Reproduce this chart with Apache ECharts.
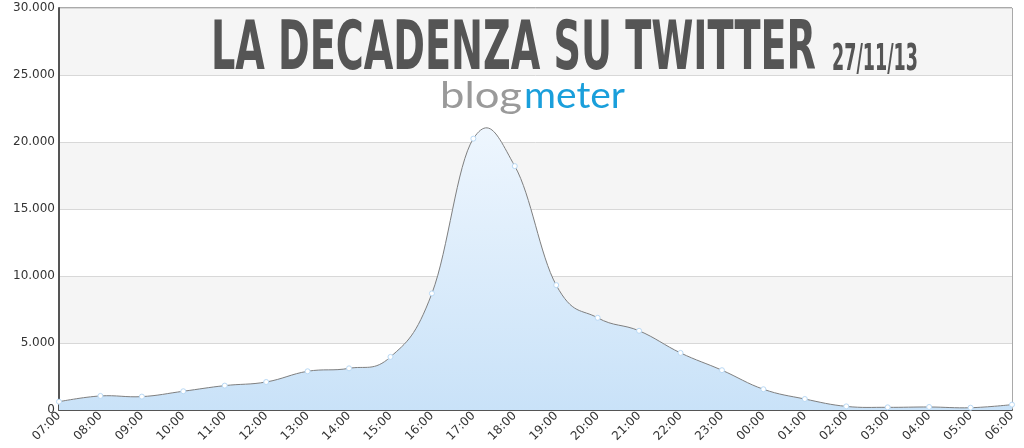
<!DOCTYPE html>
<html>
<head>
<meta charset="utf-8">
<script src="https://cdn.jsdelivr.net/npm/echarts@6/dist/echarts.min.js"></script>
<style>
html,body{margin:0;padding:0;background:#fff;}
#chart{width:1024px;height:448px;}
</style>
</head>
<body>
<div id="chart"></div>
<script>
const categories = ['07:00','08:00','09:00','10:00','11:00','12:00','13:00','14:00','15:00','16:00','17:00','18:00','19:00','20:00','21:00','22:00','23:00','00:00','01:00','02:00','03:00','04:00','05:00','06:00'];
const tweets = [620,1050,1000,1400,1820,2090,2890,3110,3960,8700,20250,18200,9320,6880,5910,4260,2970,1550,820,270,200,225,170,400];
const yTicks = {min:0, max:30000, interval:5000};
const titleText = 'LA DECADENZA SU TWITTER';
const dateText = '27/11/13';

const ctx = document.createElement('canvas').getContext('2d');
function measure(text, font){ ctx.font = font; return ctx.measureText(text).width; }

const titleFontFamily = '"Liberation Sans Narrow", "DejaVu Sans Condensed", "Liberation Sans", sans-serif';
const titleSize = 68, dateSize = 38;
const titleW = measure(titleText, 'bold ' + titleSize + 'px ' + titleFontFamily);
const dateW = measure(dateText, 'bold ' + dateSize + 'px ' + titleFontFamily);
const logoFamily = '"Lato", "Noto Sans", "DejaVu Sans", sans-serif';
const logoSize = 36;
const blogW = measure('blog', 'normal ' + logoSize + 'px ' + logoFamily);
const meterW = measure('meter', 'normal ' + logoSize + 'px ' + logoFamily);

// Highcharts-style spline (smoothing 1.5) built from axis-mapped pixel points
function splinePath(pts){
  const sm = 1.5, den = sm + 1;
  const ctl = pts.map((p,i)=>{
    if(i===0 || i===pts.length-1) return {lx:p[0],ly:p[1],rx:p[0],ry:p[1]};
    const a = pts[i-1], b = pts[i+1];
    let lx=(sm*p[0]+a[0])/den, ly=(sm*p[1]+a[1])/den;
    let rx=(sm*p[0]+b[0])/den, ry=(sm*p[1]+b[1])/den;
    if(rx!==lx){
      const c=((ry-ly)*(rx-p[0]))/(rx-lx)+p[1]-ry;
      ly+=c; ry+=c;
    }
    return {lx,ly,rx,ry};
  });
  let d='M'+pts[0][0]+' '+pts[0][1];
  for(let i=1;i<pts.length;i++){
    d+=' C'+ctl[i-1].rx+' '+ctl[i-1].ry+' '+ctl[i].lx+' '+ctl[i].ly+' '+pts[i][0]+' '+pts[i][1];
  }
  return d;
}

const chart = echarts.init(document.getElementById('chart'), null, {renderer:'canvas'});
chart.setOption({
  animation:false,
  backgroundColor:'#fff',
  grid:{left:59,right:12,top:8,bottom:38,containLabel:false,outerBoundsMode:'none',
        show:true,borderColor:'#555',borderWidth:1,backgroundColor:'transparent'},
  xAxis:{
    type:'category', data:categories, boundaryGap:false,
    axisLine:{show:true,lineStyle:{color:'#555',width:2}},
    axisTick:{show:false},
    axisLabel:{rotate:45,color:'#333',fontSize:12,fontFamily:'"DejaVu Sans", sans-serif',margin:4,interval:0},
    splitLine:{show:false}
  },
  yAxis:{
    type:'value', min:yTicks.min, max:yTicks.max, interval:yTicks.interval,
    axisLine:{show:true,lineStyle:{color:'#555',width:2}},
    axisTick:{show:false},
    axisLabel:{color:'#333',fontSize:12,fontFamily:'"DejaVu Sans", sans-serif',margin:4,
      formatter:v=>String(v).replace(/\B(?=(\d{3})+(?!\d))/g,'.')},
    splitLine:{show:true,lineStyle:{color:'#d8d8d8',width:1}},
    splitArea:{show:true,areaStyle:{color:['#ffffff','#f5f5f5']}}
  },
  series:[
    {
      type:'custom', data:tweets.map((v,i)=>[i,v]), z:2, silent:true,
      renderItem:function(params, api){
        if(params.dataIndex!==0) return null;
        const pts = tweets.map((v,i)=>api.coord([i,v]));
        const base = api.coord([0,0])[1];
        const top = api.coord([0,yTicks.max])[1];
        const line = splinePath(pts);
        const area = line+' L'+pts[pts.length-1][0]+' '+base+' L'+pts[0][0]+' '+base+' Z';
        return {type:'group',children:[
          {type:'path',shape:{pathData:area},
           style:{fill:new echarts.graphic.LinearGradient(0,0,0,1,[
             {offset:0,color:'#eef6fe'},{offset:1,color:'#c9e2f8'}]),stroke:null}},
          {type:'path',shape:{pathData:line},
           style:{fill:null,stroke:'#7f7f7f',lineWidth:1}}
        ]};
      }
    },
    {
      type:'line', data:tweets, smooth:false,
      symbol:'circle', symbolSize:5, showSymbol:true,
      lineStyle:{width:0,opacity:0},
      itemStyle:{color:'#ffffff',borderColor:'#b9d9f5',borderWidth:1},
      z:3
    }
  ],
  graphic:[
    {type:'text',x:211,y:51,scaleX:605/titleW,z:10,
     style:{text:titleText,x:0,y:0,align:'left',verticalAlign:'middle',
       font:'bold '+titleSize+'px '+titleFontFamily,fill:'#555'}},
    {type:'text',x:832,y:60,scaleX:86/dateW,z:10,
     style:{text:dateText,x:0,y:0,align:'left',verticalAlign:'middle',
       font:'bold '+dateSize+'px '+titleFontFamily,fill:'#555'}},
    {type:'text',x:440,y:96,scaleX:82/blogW,z:10,
     style:{text:'blog',x:0,y:0,align:'left',verticalAlign:'middle',
       font:'normal '+logoSize+'px '+logoFamily,fill:'#9a9a9a'}},
    {type:'text',x:524,y:96,scaleX:101/meterW,z:10,
     style:{text:'meter',x:0,y:0,align:'left',verticalAlign:'middle',
       font:'normal '+logoSize+'px '+logoFamily,fill:'#1a9fdb'}}
  ]
});
</script>
</body>
</html>
